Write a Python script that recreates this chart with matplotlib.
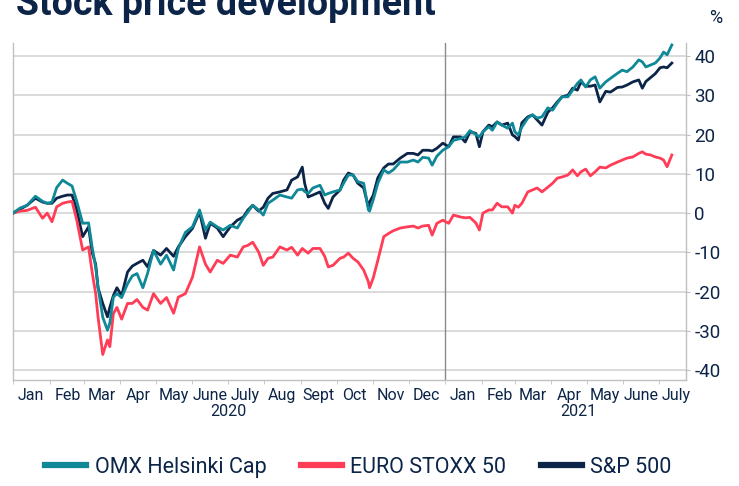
import matplotlib
matplotlib.use("Agg")
import matplotlib.pyplot as plt
import matplotlib.transforms as mtransforms
import pandas as pd

# dates of the readings (same for all three series)
dates = pd.to_datetime([
    "2020-01-01", "2020-01-07", "2020-01-13", "2020-01-20", "2020-01-26", "2020-01-30",
    "2020-02-03", "2020-02-07", "2020-02-12", "2020-02-16", "2020-02-20", "2020-02-24",
    "2020-02-29", "2020-03-05", "2020-03-08", "2020-03-11", "2020-03-13", "2020-03-17",
    "2020-03-21", "2020-03-23", "2020-03-26", "2020-03-29", "2020-04-02", "2020-04-07",
    "2020-04-11", "2020-04-15", "2020-04-20", "2020-04-24", "2020-04-29", "2020-05-05",
    "2020-05-10", "2020-05-16", "2020-05-20", "2020-05-26", "2020-06-01", "2020-06-07",
    "2020-06-12", "2020-06-16", "2020-06-22", "2020-06-27", "2020-07-03", "2020-07-09",
    "2020-07-14", "2020-07-18", "2020-07-22", "2020-07-27", "2020-07-31", "2020-08-04",
    "2020-08-08", "2020-08-14", "2020-08-20", "2020-08-24", "2020-08-29", "2020-09-02",
    "2020-09-04", "2020-09-07", "2020-09-11", "2020-09-17", "2020-09-21", "2020-09-24",
    "2020-09-28", "2020-10-04", "2020-10-07", "2020-10-11", "2020-10-15", "2020-10-19",
    "2020-10-24", "2020-10-28", "2020-10-29", "2020-11-01", "2020-11-05", "2020-11-10",
    "2020-11-14", "2020-11-18", "2020-11-24", "2020-11-30", "2020-12-05", "2020-12-09",
    "2020-12-13", "2020-12-18", "2020-12-21", "2020-12-25", "2020-12-30", "2021-01-04",
    "2021-01-08", "2021-01-14", "2021-01-18", "2021-01-22", "2021-01-27", "2021-01-30",
    "2021-02-02", "2021-02-07", "2021-02-10", "2021-02-14", "2021-02-18", "2021-02-23",
    "2021-02-27", "2021-03-01", "2021-03-04", "2021-03-07", "2021-03-12", "2021-03-16",
    "2021-03-20", "2021-03-24", "2021-03-29", "2021-04-02", "2021-04-06", "2021-04-10",
    "2021-04-15", "2021-04-19", "2021-04-23", "2021-04-26", "2021-04-30", "2021-05-04",
    "2021-05-08", "2021-05-12", "2021-05-17", "2021-05-21", "2021-05-27", "2021-05-31",
    "2021-06-04", "2021-06-09", "2021-06-14", "2021-06-17", "2021-06-20", "2021-06-24",
    "2021-06-28", "2021-07-02", "2021-07-05", "2021-07-08", "2021-07-12",
])

omx = [
    0, 1.3, 2, 4.3, 3, 2.5,
    2.8, 6.5, 8.4, 7.6, 6.9, 3,
    -2.6, -2.5, -8.6, -13.7, -18.8, -26.5,
    -29.8, -28, -21.4, -20.5, -21.5, -18,
    -16, -15.4, -19, -15.3, -9.5, -13,
    -10.7, -14.5, -9, -4.9, -3.5, 0.8,
    -4.3, -2.3, -3.5, -4.3, -3.1, -3.8,
    -1.3, 0.3, 2, 0.8, -0.5, 2.5,
    3.3, 4.6, 4.1, 3.8, 5.9, 6.1,
    5.5, 5, 6.4, 7.1, 4.6, 5,
    5.4, 5.9, 7.6, 9.7, 9.7, 8,
    7.6, 0.8, 0.5, 3.3, 7.6, 11,
    10.2, 11, 13, 13, 13.5, 13,
    14.2, 14, 12.2, 14.5, 16, 16.9,
    18.5, 19, 19.4, 21, 20, 19.4,
    20.7, 22, 21.1, 23.2, 22.4, 21.6,
    22.9, 20.7, 19.9, 21.9, 24.2, 25,
    24.2, 24.5, 26.8, 26.2, 28, 29.6,
    29.6, 31.3, 33, 33.9, 32.1, 33.9,
    34.7, 31.8, 33.4, 34.3, 35.6, 36.4,
    36, 37.2, 39, 38.5, 37.2, 37.7,
    38.2, 39.5, 41, 40.3, 42.8,
]

stoxx = [
    0, 0.5, 0.7, 1.5, -1.3, 0,
    -2.2, 1.6, 2.5, 2.8, 3, -1.8,
    -9.4, -8.6, -15, -20.5, -26.4, -36,
    -32.3, -34, -25.6, -24, -27, -23,
    -23, -22, -24, -24.7, -20.5, -23,
    -21.5, -25.5, -21.4, -20.5, -16.3, -8.6,
    -13, -15, -12, -12.8, -10.7, -11.2,
    -8.6, -8.2, -7.4, -9.9, -13.3, -11.5,
    -11.2, -8.6, -9.4, -8.7, -10.7, -9,
    -9.5, -10.2, -9, -9, -11, -13.7,
    -13.3, -11.5, -11.2, -10.2, -11.5, -12.4,
    -14.5, -17.5, -19, -16.6, -12, -6,
    -5.2, -4.5, -3.8, -3.5, -3.3, -3.8,
    -3.3, -3.1, -5.6, -2.6, -1.8, -2.6,
    -0.5, -1, -1.2, -1.1, -2.5, -4.3,
    0, 0.8, 0.8, 2.5, 1.6, 1.6,
    0, 2, 1.5, 2.5, 5.4, 5.9,
    6.4, 5.4, 6.6, 7.6, 8.9, 9.2,
    9.7, 11, 9.5, 10.5, 11.2, 9.5,
    10.5, 11.7, 11.5, 12.2, 13, 13.5,
    14, 14.3, 15.2, 15.6, 15, 14.8,
    14.3, 14, 13.5, 11.8, 14.8,
]

sp500 = [
    0, 1, 2, 3.8, 2.8, 2.5,
    2.5, 3.8, 4.3, 4.6, 4.6, 0.8,
    -6, -3.5, -10, -13, -19, -23,
    -26.4, -24, -21, -19, -21, -15,
    -13.5, -12.8, -12, -13.7, -9.5, -10.7,
    -9, -11, -8.6, -6, -3.9, 0.3,
    -6.4, -2.6, -3.8, -6, -3.5, -1.8,
    -1, 0.8, 2, 0.5, 1.5, 3.8,
    5, 5.4, 5.9, 8.4, 9.2, 11.7,
    7.6, 4.1, 4.6, 5.4, 2.5, 1.2,
    4.1, 5.9, 8.4, 10.2, 9.7, 7.6,
    6.4, 1.5, 2.8, 4.5, 9, 11.5,
    12.5, 12.5, 14, 15.2, 15.2, 14.8,
    16, 16, 15.8, 16.5, 17.8, 16.9,
    19.4, 19.4, 18.1, 20.7, 20.3, 16.9,
    20.7, 22.4, 22, 23.2, 22.4, 22.9,
    19.9, 19.5, 18.6, 23, 24.5, 25,
    23.7, 22.4, 25.7, 26.8, 28.3, 29.6,
    30, 31.8, 31.3, 33.4, 32.3, 32.3,
    32.6, 28.3, 31, 30.8, 32, 32.1,
    32.6, 33.4, 33.9, 31.8, 33.5, 34.5,
    35.5, 37, 37.2, 37, 38.2,
]

series_names = ["OMX Helsinki Cap", "EURO STOXX 50", "S&P 500"]
colors = ["#0f8898", "#ff3d57", "#0b2447"]
month_labels = ["Jan", "Feb", "Mar", "Apr", "May", "June", "July", "Aug", "Sept",
                "Oct", "Nov", "Dec", "Jan", "Feb", "Mar", "Apr", "May", "June", "July"]
yticks = [-40, -30, -20, -10, 0, 10, 20, 30, 40]

navy = "#0b2447"
plt.rcParams['font.family'] = ['Roboto', 'DejaVu Sans']

fig = plt.figure(figsize=(7.39, 4.86), dpi=100)
ax = fig.add_axes([0.0176, 0.218, 0.9107, 0.6935])

l_sp, = ax.plot(dates, sp500, color=colors[2], lw=2.0, zorder=3)
l_eu, = ax.plot(dates, stoxx, color=colors[1], lw=2.0, zorder=3)
l_omx, = ax.plot(dates, omx, color=colors[0], lw=2.0, zorder=4)

ax.set_ylim(-42.5, 43.3)
ax.set_xlim(pd.Timestamp("2020-01-01"), pd.Timestamp("2021-07-24"))
ax.axvline(pd.Timestamp("2021-01-01"), color="#8a8a8a", lw=1, zorder=2)

# y axis on the right
ax.yaxis.tick_right()
ax.set_yticks(yticks)
ax.set_yticklabels([str(v) for v in yticks])
ax.tick_params(axis="y", which="major", length=3, color="#c0c0c0", labelsize=13.5,
               labelcolor=navy, pad=3)
ax.grid(axis="y", color="#d4d4d4", lw=1.2)
ax.set_axisbelow(True)

# months: ticks at boundaries, labels mid-month
month_starts = pd.date_range("2020-01-01", "2021-07-01", freq="MS")
mid_months = month_starts + pd.Timedelta(days=15)
ax.set_xticks(month_starts, minor=True)
ax.set_xticks(mid_months)
ax.set_xticklabels(month_labels)
ax.tick_params(axis="x", which="major", length=0, labelsize=11.5, labelcolor=navy, pad=6)
ax.tick_params(axis="x", which="minor", length=3, color="#c0c0c0")

ax.spines["top"].set_visible(False)
for s in ["left", "right", "bottom"]:
    ax.spines[s].set_color("#c0c0c0")
    ax.spines[s].set_linewidth(1)

trans = mtransforms.blended_transform_factory(ax.transData, ax.transAxes)
ax.text(pd.Timestamp("2020-07-01"), -0.072, "2020", transform=trans, ha="center",
        va="top", fontsize=11.5, color=navy)
ax.text(pd.Timestamp("2021-04-24"), -0.072, "2021", transform=trans, ha="center",
        va="top", fontsize=11.5, color=navy)

fig.text(0.022, 1 - 15 / 486, "Stock price development", fontsize=27, fontweight="bold",
         color=navy, ha="left", va="baseline")
fig.text(0.969, 1 - 18 / 486, "%", fontsize=13, color=navy, ha="center", va="center")

fig.legend([l_omx, l_eu, l_sp], series_names, loc="center", bbox_to_anchor=(0.485, 0.038),
           ncol=3, frameon=False, fontsize=15.5, handlelength=1.9, columnspacing=1.6,
           handletextpad=0.4, labelcolor=navy)
for line in fig.legends[0].get_lines():
    line.set_linewidth(4.5)

fig.savefig("out.png", dpi=100)
